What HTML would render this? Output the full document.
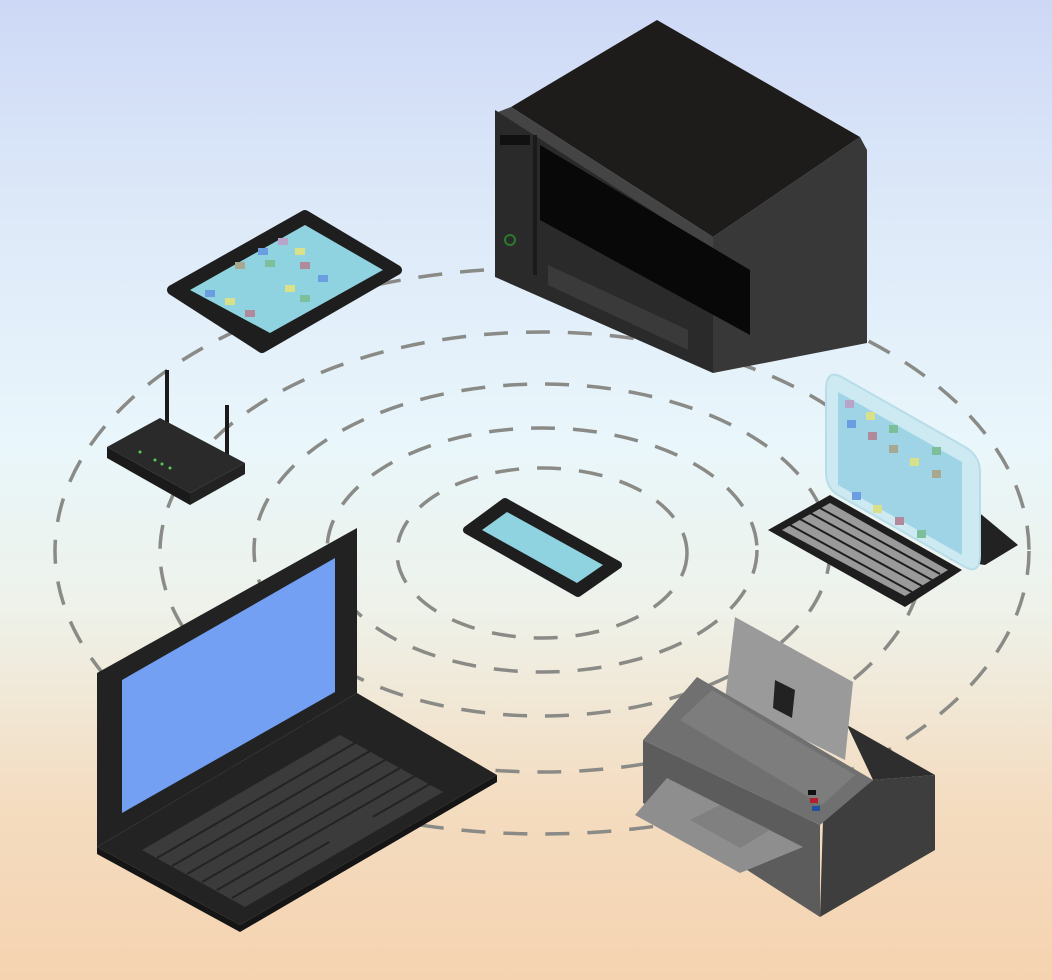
<!DOCTYPE html>
<html><head><meta charset="utf-8"><style>
html,body{margin:0;padding:0;}
body{width:1052px;height:980px;overflow:hidden;background:linear-gradient(180deg,#cdd8f6 0%,#dce8f8 20%,#e9f6fb 45%,#eef2ea 62%,#f4dcc0 82%,#f5d3b0 100%);}
svg{display:block}
</style></head><body>
<svg width="1052" height="980" viewBox="0 0 1052 980" xmlns="http://www.w3.org/2000/svg">
<g fill="none" stroke="#8a8a86" stroke-width="3.5" stroke-dasharray="24,18">
<ellipse cx="542" cy="553" rx="145" ry="85"/>
<ellipse cx="542" cy="550" rx="215" ry="122"/>
<ellipse cx="542" cy="550" rx="288" ry="166"/>
<ellipse cx="542" cy="552" rx="382" ry="220"/>
<ellipse cx="542" cy="551" rx="487" ry="283"/>
</g>
<!-- printer -->
<polygon points="495,110 495,277 713,373 713,237" fill="#2a2a2a"/>
<polygon points="713,237 860,137 867,150 867,343 713,373" fill="#383838"/>
<polygon points="657,20 511,107 713,237 860,137" fill="#1e1b1b"/>
<polygon points="511,107 713,237 713,250 498,112" fill="#444"/>
<polygon points="540,145 750,270 750,335 540,220" fill="#080808"/>
<line x1="535" y1="135" x2="535" y2="275" stroke="#1a1a1a" stroke-width="4"/>
<polygon points="548,265 688,330 688,350 548,285" fill="#3a3a3a"/>
<rect x="500" y="135" width="30" height="10" fill="#111"/>
<circle cx="510" cy="240" r="5" fill="none" stroke="#2c7a2c" stroke-width="2"/>
<!-- tablet -->
<polygon points="172,290 305,215 397,270 262,348" fill="#1e1e1e" stroke="#1e1e1e" stroke-width="10" stroke-linejoin="round"/>
<polygon points="190,290 305,225 383,270 270,333" fill="#8fd3e0"/>
<g>
<rect x="278" y="238" width="10" height="7" fill="#b8a4c8"/><rect x="295" y="248" width="10" height="7" fill="#d8e08a"/>
<rect x="258" y="248" width="10" height="7" fill="#6a9ee0"/><rect x="265" y="260" width="10" height="7" fill="#7cbf9a"/>
<rect x="300" y="262" width="10" height="7" fill="#b08a9a"/><rect x="318" y="275" width="10" height="7" fill="#6a9ee0"/>
<rect x="285" y="285" width="10" height="7" fill="#d8e08a"/><rect x="300" y="295" width="10" height="7" fill="#7cbf9a"/>
<rect x="205" y="290" width="10" height="7" fill="#6a9ee0"/><rect x="225" y="298" width="10" height="7" fill="#d8e08a"/>
<rect x="245" y="310" width="10" height="7" fill="#b08a9a"/><rect x="235" y="262" width="10" height="7" fill="#a8a890"/>
</g>
<!-- router -->
<line x1="167" y1="370" x2="167" y2="425" stroke="#1a1a1a" stroke-width="4"/>
<line x1="227" y1="405" x2="227" y2="455" stroke="#1a1a1a" stroke-width="4"/>
<polygon points="107,447 160,418 245,463 190,493" fill="#2a2a2a"/>
<polygon points="107,447 190,493 190,505 107,458" fill="#1a1a1a"/>
<polygon points="190,493 245,463 245,474 190,505" fill="#222"/>
<circle cx="140" cy="452" r="1.5" fill="#5c5"/><circle cx="155" cy="460" r="1.5" fill="#5c5"/><circle cx="162" cy="464" r="1.5" fill="#5c5"/><circle cx="170" cy="468" r="1.5" fill="#5c5"/>
<!-- phone -->
<polygon points="467,530 505,502 618,565 578,593" fill="#1e1e1e" stroke="#1e1e1e" stroke-width="8" stroke-linejoin="round"/>
<polygon points="482,530 507,512 603,565 577,583" fill="#8fd3e0"/>
<!-- tablet keyboard -->
<polygon points="940,480 1018,545 985,565 950,560" fill="#222"/>
<polygon points="768,530 830,495 962,570 905,607" fill="#1e1e1e"/>
<polygon points="782,530 830,503 948,570 905,596" fill="#9a9a9a"/>
<g stroke="#1e1e1e" stroke-width="2">
<line x1="790" y1="525" x2="912" y2="592"/><line x1="800" y1="519" x2="922" y2="586"/><line x1="810" y1="513" x2="932" y2="580"/><line x1="820" y1="508" x2="940" y2="574"/>
</g>
<path d="M840,376 L965,447 Q980,456 980,472 L980,555 Q980,575 965,567 L838,495 Q826,488 826,472 L826,390 Q826,370 840,376 Z" fill="#cde9f2" stroke="#b8dde9" stroke-width="2"/>
<polygon points="838,392 962,462 962,555 838,485" fill="#9fd4e6"/>
<g>
<rect x="845" y="400" width="9" height="8" fill="#b8a4c8"/><rect x="866" y="412" width="9" height="8" fill="#d8e08a"/><rect x="889" y="425" width="9" height="8" fill="#7cbf9a"/>
<rect x="847" y="420" width="9" height="8" fill="#6a9ee0"/><rect x="868" y="432" width="9" height="8" fill="#b08a9a"/><rect x="889" y="445" width="9" height="8" fill="#a8a890"/>
<rect x="932" y="447" width="9" height="8" fill="#7cbf9a"/><rect x="932" y="470" width="9" height="8" fill="#a8a890"/><rect x="910" y="458" width="9" height="8" fill="#d8e08a"/>
<rect x="852" y="492" width="9" height="8" fill="#6a9ee0"/><rect x="873" y="505" width="9" height="8" fill="#d8e08a"/><rect x="895" y="517" width="9" height="8" fill="#b08a9a"/><rect x="917" y="530" width="9" height="8" fill="#7cbf9a"/>
</g>
<!-- laptop -->
<polygon points="97,673 357,528 357,693 97,847" fill="#222"/>
<polygon points="122,680 335,558 335,692 122,813" fill="#73a0f2"/>
<polygon points="97,847 357,693 497,775 240,925" fill="#232323"/>
<polygon points="97,847 240,925 240,932 97,854" fill="#151515"/>
<polygon points="240,925 497,775 497,782 240,932" fill="#151515"/>
<polygon points="142,850 340,735 443,792 245,907" fill="#3b3b3b"/>
<g stroke="#232323" stroke-width="2">
<line x1="157" y1="858" x2="355" y2="743"/><line x1="172" y1="866" x2="370" y2="751"/><line x1="187" y1="874" x2="385" y2="760"/><line x1="202" y1="882" x2="400" y2="768"/><line x1="217" y1="890" x2="415" y2="776"/><line x1="232" y1="898" x2="430" y2="784"/>
</g>
<polygon points="326,840 370,815 382,822 338,847" fill="#3b3b3b"/>
<!-- fax -->
<polygon points="847,725 935,775 873,780" fill="#2e2e2e"/>
<polygon points="735,617 853,682 845,760 725,700" fill="#9a9a9a"/>
<polygon points="775,680 795,690 792,718 773,708" fill="#222"/>
<polygon points="823,820 873,780 935,775 935,850 820,917" fill="#3e3e3e"/>
<polygon points="643,740 820,825 820,917 643,803" fill="#5c5c5c"/>
<polygon points="643,740 697,677 873,780 820,825" fill="#707070"/>
<polygon points="680,720 712,690 855,775 822,805" fill="#7d7d7d"/>
<polygon points="635,815 667,778 803,847 740,873" fill="#8e8e8e"/>
<polygon points="690,820 720,805 770,830 740,848" fill="#808080"/>
<rect x="808" y="790" width="8" height="5" fill="#111"/><rect x="810" y="798" width="8" height="5" fill="#b02030"/><rect x="812" y="806" width="8" height="5" fill="#2050a0"/>
</svg>
</body></html>
